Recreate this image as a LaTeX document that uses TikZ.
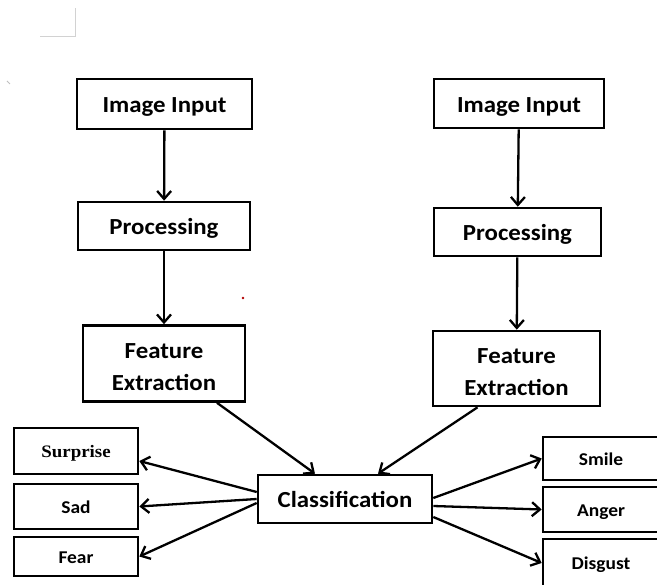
\documentclass[tikz,border=0pt]{standalone}
\usepackage{fontspec}
\setmainfont[FakeStretch=1.08]{Carlito}
\newfontfamily\surprisefont[FakeStretch=1.08]{Liberation Serif}
\usetikzlibrary{arrows.meta}

\newcommand{\firstline}[1]{\raisebox{0pt}[21.6pt][0pt]{#1}}

\begin{document}
\begin{tikzpicture}[x=1pt, y=-1pt, line width=2.6pt,
    box/.style={rectangle, draw, inner sep=0pt, align=center,
        font=\fontsize{23}{32.4}\selectfont\bfseries},
    oneline/.style={box, text height=18pt, text depth=0pt},
    small/.style={rectangle, draw, inner sep=0pt, minimum width=124pt, text height=14pt, text depth=0pt,
        font=\fontsize{18}{20}\selectfont\bfseries},
    arr/.style={-{Straight Barb[length=8pt,width=14pt]}, line width=2.3pt}]
    \useasboundingbox (0,0) rectangle (657,585);

    % page marks
    \draw[gray!35, line width=1pt] (40,37) -- (75,37) -- (75,8);
    \draw[gray!50, line width=1pt] (7,81) -- (10,84);
    \fill[red!70!black] (243,298) circle (1.4pt);

    % left branch
    \node[oneline, minimum width=175pt, minimum height=50pt] (inL) at (164.5,104) {Image Input};
    \node[oneline, minimum width=172pt, minimum height=48pt] (prL) at (164,226) {Processing};
    \node[box, minimum width=162pt, minimum height=76pt] (feL) at (164,363.5) {\firstline{Feature}\\Extraction};

    % right branch
    \node[oneline, minimum width=170pt, minimum height=49pt] (inR) at (519,103.5) {Image Input};
    \node[oneline, minimum width=167pt, minimum height=48pt] (prR) at (517.5,232) {Processing};
    \node[box, minimum width=167pt, minimum height=75pt] (feR) at (516.5,368.5) {\firstline{Feature}\\Extraction};

    \node[oneline, minimum width=174pt, minimum height=48pt] (cls) at (345,499) {Classification};

    % emotions
    \node[small, minimum height=46pt, font=\fontsize{17.5}{20}\selectfont\bfseries\surprisefont] (sur) at (76,451) {Surprise};
    \node[small, minimum height=45pt] (sad) at (76,506.5) {Sad};
    \node[small, minimum height=39pt] (fear) at (76,556.5) {Fear};
    \node[small, minimum width=116pt, minimum height=43pt] (smile) at (601,458.5) {Smile};
    \node[small, minimum width=116pt, minimum height=45pt] (anger) at (601,509.5) {Anger};
    \node[small, minimum width=116pt, minimum height=48pt] (disg) at (601,563) {Disgust};

    % flow
    \draw[arr] (inL) -- (prL);
    \draw[arr] (prL) -- (feL);
    \draw[arr] (inR) -- (prR);
    \draw[arr] (prR) -- (feR);
    \draw[arr] ([xshift=53pt]feL.south) -- ([xshift=-30pt]cls.north);
    \draw[arr] ([xshift=-39pt]feR.south) -- ([xshift=33pt]cls.north);

    % outputs
    \draw[arr] ([yshift=7pt]cls.west) -- ([yshift=-10pt]sur.east);
    \draw[arr] (cls.west) -- (sad.east);
    \draw[arr] ([yshift=-4pt]cls.west) -- (fear.east);
    \draw[arr] ([yshift=1pt]cls.east) -- (smile.west);
    \draw[arr] ([yshift=-7pt]cls.east) -- (anger.west);
    \draw[arr] ([yshift=-18pt]cls.east) -- (disg.west);
\end{tikzpicture}
\end{document}
